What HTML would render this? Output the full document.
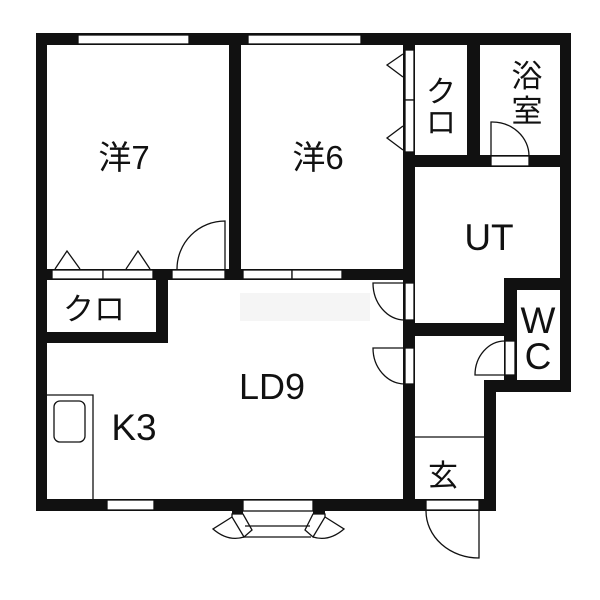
<!DOCTYPE html>
<html><head><meta charset="utf-8"><style>
html,body{margin:0;padding:0;background:#fff;}
svg{display:block;}
text{font-family:"Liberation Sans","Noto Sans CJK JP",sans-serif;fill:#111;}
</style></head><body>
<svg width="600" height="600" viewBox="0 0 600 600" xmlns="http://www.w3.org/2000/svg">
<rect width="600" height="600" fill="#fff"/>
<rect x="240" y="293" width="130" height="28" fill="#f5f5f5"/>
<g fill="#111">
<rect x="36" y="33" width="535" height="12"/>
<rect x="36" y="33" width="11" height="478"/>
<rect x="560" y="33" width="11" height="359"/>
<rect x="36" y="499" width="460" height="12"/>
<rect x="229" y="33" width="12" height="247"/>
<rect x="36" y="269" width="377" height="11"/>
<rect x="156" y="269" width="12" height="74"/>
<rect x="36" y="332" width="132" height="11"/>
<rect x="403" y="33" width="12" height="478"/>
<rect x="467" y="33" width="13" height="134"/>
<rect x="403" y="155" width="168" height="12"/>
<rect x="403" y="323" width="113" height="13"/>
<rect x="504" y="278" width="13" height="114"/>
<rect x="504" y="278" width="67" height="12"/>
<rect x="484" y="380" width="87" height="12"/>
<rect x="484" y="380" width="12" height="131"/>
<rect x="232" y="499" width="11" height="15"/>
<rect x="313" y="499" width="12" height="15"/>
</g>
<g fill="#fff" stroke="#111" stroke-width="1.3">
<rect x="78" y="35" width="111" height="9"/>
<rect x="248" y="35" width="113" height="9"/>
<rect x="107" y="500" width="47" height="10"/>
<rect x="243" y="500" width="70" height="11"/>
<rect x="52" y="270" width="51" height="9"/>
<rect x="103" y="270" width="50" height="9"/>
<rect x="172" y="270" width="53" height="9"/>
<rect x="243" y="270" width="49" height="9"/>
<rect x="292" y="270" width="50" height="9"/>
<rect x="405" y="50" width="9" height="50"/>
<rect x="405" y="100" width="9" height="52"/>
<rect x="405" y="283" width="9" height="37"/>
<rect x="405" y="348" width="9" height="36"/>
<rect x="491" y="156" width="38" height="10"/>
<rect x="505" y="341" width="10" height="34"/>
<rect x="426" y="500" width="53" height="10"/>
</g>
<g fill="none" stroke="#111" stroke-width="1.3">
<path d="M55 269 L67 251 L80 269 M126 269 L138 251 L150 269"/>
<path d="M403 54 L387 65 L403 77 M403 126 L387 138 L403 150"/>
<path d="M225 269 L225 221 A48 48 0 0 0 177 269"/>
<path d="M491 156 L491 122 A37 34 0 0 1 529 156"/>
<path d="M405 283 L373 283 A32 37 0 0 0 405 320"/>
<path d="M405 348 L373 348 A32 36 0 0 0 405 384"/>
<path d="M505 375 L475 375 A30 34 0 0 1 505 341"/>
<path d="M479 511 L479 558 A53 47 0 0 1 426 511"/>
<path d="M47 395 L93 395 L93 499"/>
<rect x="54" y="401" width="31" height="41" rx="6"/>
<path d="M415 437 L484 437"/>
<path d="M245 526 L310 526 M244 537 L311 537"/>
<path d="M232 514 L243 514 L252 530 L244 537 L232 517 Z"/>
<path d="M325 514 L313 514 L305 530 L313 537 L325 517 Z"/>
<path d="M232 517 L213 529 Q228 542 244 537"/>
<path d="M325 517 L344 529 Q329 542 313 537"/>
</g>
<text x="124" y="169" font-size="33" text-anchor="middle">洋7</text>
<text x="318" y="169" font-size="33" text-anchor="middle">洋6</text>
<text x="94" y="320" font-size="31" text-anchor="middle">クロ</text>
<text x="441" y="102" font-size="30" text-anchor="middle">ク</text>
<text x="441" y="133" font-size="30" text-anchor="middle">ロ</text>
<text x="527" y="87" font-size="31" text-anchor="middle">浴</text>
<text x="527" y="122" font-size="31" text-anchor="middle">室</text>
<text x="489" y="250" font-size="37" text-anchor="middle">UT</text>
<text x="538" y="333" font-size="37" text-anchor="middle">W</text>
<text x="538" y="369" font-size="37" text-anchor="middle">C</text>
<text x="272" y="399" font-size="36" text-anchor="middle">LD9</text>
<text x="134" y="440" font-size="37" text-anchor="middle">K3</text>
<text x="443" y="486" font-size="30" text-anchor="middle">玄</text>
</svg>
</body></html>
